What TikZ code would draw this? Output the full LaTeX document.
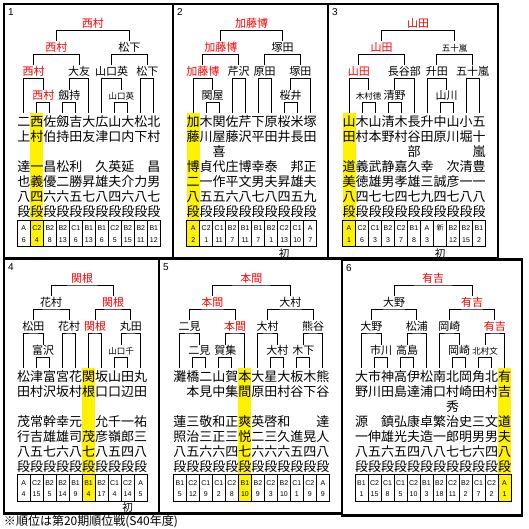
\documentclass[tikz,border=0pt]{standalone}
\usepackage{fontspec}
\newfontfamily\jp{Noto Sans CJK JP}
\newfontfamily\lat{Liberation Sans}
% one player column: name, column, first char, other rows, class, number
\newcommand{\plyr}[6]{%
  \node[kanji] (#1) at (13*#2,0) {#3};
  \foreach \c [count=\r] in {#4} {\node[kanji] (#1-\r) at (13*#2,15*\r) {\c};}
  \node[cell] (#1-t) at (13*#2,111.65) {};
  \node[cls] (#1-c) at (13*#2,106.5) {#5};
  \node[cls] (#1-n) at (13*#2,118) {#6};
}

\begin{document}
\begin{tikzpicture}[x=1pt,y=-1pt,line width=1pt,
  kanji/.style={font=\jp\fontsize{13}{13}\selectfont,inner sep=0pt,text height=13.3pt,text depth=3.5pt},
  lab/.style={font=\jp\fontsize{11}{11}\selectfont,inner sep=0pt,text height=9.7pt,text depth=2.3pt,anchor=south},
  small/.style={font=\jp\fontsize{8.5}{8.5}\selectfont},
  win/.style={text=red},
  cell/.style={draw,minimum width=13pt,minimum height=26.7pt,inner sep=0pt},
  cls/.style={font=\lat\fontsize{7}{7}\selectfont,inner sep=0pt},
  hl/.style={fill=yellow},
  first/.style={font=\jp\fontsize{10.5}{10.5}\selectfont,inner sep=0pt},
  num/.style={font=\lat\fontsize{10}{10}\selectfont,inner sep=0pt},
  panel/.style={draw,line width=2.2pt}]
\useasboundingbox (0,0) rectangle (529,529);

% panel 1
\draw[panel] (4,4) rectangle (173,258.5);
\node[num] (n1) at (11,12.5) {1};
\begin{scope}[shift={(23.8,121.7)}]
\fill[hl] (6.5,-8.4) rectangle (19.5,125);
\plyr{futakami}{0}{二}{上,,達,也,八,段}{A}{6}
\plyr{nishimura}{1}{西}{村,,一,義,四,段}{C2}{4}
\plyr{saeki}{2}{佐}{伯,,昌,優,六,段}{B2}{8}
\plyr{kenmochi}{3}{劔}{持,,松,二,六,段}{B2}{13}
\plyr{yoshida}{4}{吉}{田,,利,勝,五,段}{C1}{6}
\plyr{otomo}{5}{大}{友,,,昇,七,段}{B1}{13}
\plyr{hirotsu}{6}{広}{津,,久,雄,八,段}{B1}{6}
\plyr{yamaguchi}{7}{山}{口,,英,夫,四,段}{C2}{5}
\plyr{ouchi}{8}{大}{内,,延,介,六,段}{B2}{15}
\plyr{matsushita}{9}{松}{下,,,力,八,段}{B2}{11}
\plyr{kitamura}{10}{北}{村,,昌,男,七,段}{B1}{12}
\node[lab,win] (r1) at (19.5,-19) {西村};
\draw (nishimura.north) |- (r1.south) -| (saeki.north);
\node[lab,win] (qf1) at (9.75,-43.5) {西村};
\draw (futakami.north) |- (qf1.south) -| (r1.north);
\node[lab] (r2) at (45.5,-19) {劔持};
\draw (kenmochi.north) |- (r2.south) -| (yoshida.north);
\node[lab] (qf2) at (55.25,-43.5) {大友};
\draw (r2.north) |- (qf2.south) -| (otomo.north);
\node[lab,win] (sf1) at (32.5,-67.5) {西村};
\draw (qf1.north) |- (sf1.south) -| (qf2.north);
\node[lab,small] (r3) at (97.5,-19) {山口英};
\draw (yamaguchi.north) |- (r3.south) -| (ouchi.north);
\node[lab] (qf3) at (87.75,-43.5) {山口英};
\draw (hirotsu.north) |- (qf3.south) -| (r3.north);
\node[lab] (qf4) at (123.5,-43.5) {松下};
\draw (matsushita.north) |- (qf4.south) -| (kitamura.north);
\node[lab] (sf2) at (105.6,-67.5) {松下};
\draw (qf3.north) |- (sf2.south) -| (qf4.north);
\node[lab,win] (fin) at (69.1,-91.5) {西村};
\draw (sf1.north) |- (fin.south) -| (sf2.north);
\end{scope}

% panel 2
\draw[panel] (173,4) rectangle (328,258.5);
\node[num] (n2) at (180,12.5) {2};
\begin{scope}[shift={(193.2,121.7)}]
\fill[hl] (-6.5,-8.4) rectangle (6.5,125);
\plyr{kato}{0}{加}{藤,,博,二,八,段}{A}{2}
\plyr{kikawa}{1}{木}{川,,貞,一,五,段}{C2}{1}
\plyr{sekiya}{2}{関}{屋,喜,代,作,五,段}{C1}{11}
\plyr{sato}{3}{佐}{藤,,庄,平,六,段}{B2}{7}
\plyr{serizawa}{4}{芹}{沢,,博,文,八,段}{B1}{11}
\plyr{shimohira}{5}{下}{平,,幸,男,七,段}{B1}{7}
\plyr{harada}{6}{原}{田,,泰,夫,八,段}{B2}{1}
\plyr{sakurai}{7}{桜}{井,,,昇,四,段}{C2}{13}
\plyr{yonenaga}{8}{米}{長,,邦,雄,五,段}{C1}{10}
\plyr{tsukada}{9}{塚}{田,,正,夫,九,段}{A}{7}
\node[lab] (r1) at (19.5,-19) {関屋};
\draw (kikawa.north) |- (r1.south) -| (sekiya.north);
\node[lab,win] (qf1) at (9.75,-43.5) {加藤博};
\draw (kato.north) |- (qf1.south) -| (r1.north);
\node[lab] (qf2) at (45.5,-43.5) {芹沢};
\draw (sato.north) |- (qf2.south) -| (serizawa.north);
\node[lab,win] (sf1) at (27.6,-67.5) {加藤博};
\draw (qf1.north) |- (sf1.south) -| (qf2.north);
\node[lab] (qf3) at (71.5,-43.5) {原田};
\draw (shimohira.north) |- (qf3.south) -| (harada.north);
\node[lab] (r2) at (97.5,-19) {桜井};
\draw (sakurai.north) |- (r2.south) -| (yonenaga.north);
\node[lab] (qf4) at (107.25,-43.5) {塚田};
\draw (r2.north) |- (qf4.south) -| (tsukada.north);
\node[lab] (sf2) at (89.4,-67.5) {塚田};
\draw (qf3.north) |- (sf2.south) -| (qf4.north);
\node[lab,win] (fin) at (58.5,-91.5) {加藤博};
\draw (sf1.north) |- (fin.south) -| (sf2.north);
\node[first] (new2) at (91,131.5) {初};
\end{scope}

% panel 3
\draw[panel] (328,4) rectangle (498,258.5);
\node[num] (n3) at (335,12.5) {3};
\begin{scope}[shift={(349,121.7)}]
\fill[hl] (-6.5,-8.4) rectangle (6.5,125);
\plyr{yamada}{0}{山}{田,,道,美,八,段}{A}{1}
\plyr{kimuray}{1}{木}{村,,義,徳,四,段}{C2}{6}
\plyr{yamamoto}{2}{山}{本,,武,雄,七,段}{C1}{3}
\plyr{seino}{3}{清}{野,,静,男,七,段}{B2}{3}
\plyr{kimurak}{4}{木}{村,,嘉,孝,四,段}{C2}{7}
\plyr{hasebe}{5}{長}{谷,部,久,雄,七,段}{B1}{8}
\plyr{masuda}{6}{升}{田,,幸,三,九,段}{A}{3}
\plyr{nakahara}{7}{中}{原,,,誠,四,段}{\jp 新}{}
\plyr{yamakawa}{8}{山}{川,,次,彦,七,段}{B2}{12}
\plyr{kobori}{9}{小}{堀,,清,一,八,段}{B2}{15}
\plyr{igarashi}{10}{五}{十,嵐,豊,一,八,段}{B1}{2}
\node[lab,small] (r1) at (19.5,-19) {木村徳};
\draw (kimuray.north) |- (r1.south) -| (yamamoto.north);
\node[lab,win] (qf1) at (9.75,-43.5) {山田};
\draw (yamada.north) |- (qf1.south) -| (r1.north);
\node[lab] (r2) at (45.5,-19) {清野};
\draw (seino.north) |- (r2.south) -| (kimurak.north);
\node[lab] (qf2) at (55.25,-43.5) {長谷部};
\draw (r2.north) |- (qf2.south) -| (hasebe.north);
\node[lab,win] (sf1) at (32.5,-67.5) {山田};
\draw (qf1.north) |- (sf1.south) -| (qf2.north);
\node[lab] (r3) at (97.5,-19) {山川};
\draw (nakahara.north) |- (r3.south) -| (yamakawa.north);
\node[lab] (qf3) at (87.75,-43.5) {升田};
\draw (masuda.north) |- (qf3.south) -| (r3.north);
\node[lab] (qf4) at (123.5,-43.5) {五十嵐};
\draw (kobori.north) |- (qf4.south) -| (igarashi.north);
\node[lab,small] (sf2) at (105.6,-67.5) {五十嵐};
\draw (qf3.north) |- (sf2.south) -| (qf4.north);
\node[lab,win] (fin) at (69.1,-91.5) {山田};
\draw (sf1.north) |- (fin.south) -| (sf2.north);
\node[first] (new3) at (91,131.5) {初};
\end{scope}

% panel 4
\draw[panel] (4,258.5) rectangle (159,513.5);
\node[num] (n4) at (11,267) {4};
\begin{scope}[shift={(23.6,376.5)}]
\fill[hl] (58.5,-8.4) rectangle (71.5,125);
\plyr{matsuda}{0}{松}{田,,茂,行,八,段}{A}{4}
\plyr{tsumura}{1}{津}{村,,常,吉,五,段}{C2}{15}
\plyr{tomizawa}{2}{富}{沢,,幹,雄,七,段}{B2}{5}
\plyr{miyasaka}{3}{宮}{坂,,幸,雄,六,段}{B2}{14}
\plyr{hanamura}{4}{花}{村,,元,司,八,段}{B1}{9}
\plyr{sekine}{5}{関}{根,,,茂,七,段}{B1}{4}
\plyr{sakaguchi}{6}{坂}{口,,允,彦,八,段}{B2}{17}
\plyr{yamaguchic}{7}{山}{口,,千,嶺,五,段}{C1}{4}
\plyr{tanabe}{8}{田}{辺,,一,郎,四,段}{C2}{14}
\plyr{maruta}{9}{丸}{田,,祐,三,八,段}{A}{5}
\node[lab] (r1) at (19.5,-19) {富沢};
\draw (tsumura.north) |- (r1.south) -| (tomizawa.north);
\node[lab] (qf1) at (9.75,-43.5) {松田};
\draw (matsuda.north) |- (qf1.south) -| (r1.north);
\node[lab] (qf2) at (45.5,-43.5) {花村};
\draw (miyasaka.north) |- (qf2.south) -| (hanamura.north);
\node[lab] (sf1) at (27.6,-67.5) {花村};
\draw (qf1.north) |- (sf1.south) -| (qf2.north);
\node[lab,win] (qf3) at (71.5,-43.5) {関根};
\draw (sekine.north) |- (qf3.south) -| (sakaguchi.north);
\node[lab,small] (r2) at (97.5,-19) {山口千};
\draw (yamaguchic.north) |- (r2.south) -| (tanabe.north);
\node[lab] (qf4) at (107.25,-43.5) {丸田};
\draw (r2.north) |- (qf4.south) -| (maruta.north);
\node[lab,win] (sf2) at (89.4,-67.5) {関根};
\draw (qf3.north) |- (sf2.south) -| (qf4.north);
\node[lab,win] (fin) at (58.5,-91.5) {関根};
\draw (sf1.north) |- (fin.south) -| (sf2.north);
\node[first] (new4) at (104,131.5) {初};
\end{scope}

% panel 5
\draw[panel] (159,258.5) rectangle (342,513.5);
\node[num] (n5) at (166,267) {5};
\begin{scope}[shift={(179.9,376.5)}]
\fill[hl] (58.5,-8.4) rectangle (71.5,125);
\plyr{nada}{0}{灘}{,,蓮,照,八,段}{B1}{5}
\plyr{hashimoto}{1}{橋}{本,,三,治,五,段}{C2}{12}
\plyr{futami}{2}{二}{見,,敬,三,六,段}{C1}{9}
\plyr{yamanaka}{3}{山}{中,,和,正,六,段}{C1}{2}
\plyr{kashu}{4}{賀}{集,,正,三,四,段}{C2}{8}
\plyr{honma}{5}{本}{間,,爽,悦,七,段}{B1}{10}
\plyr{ohara}{6}{大}{原,,英,二,六,段}{B2}{9}
\plyr{hoshida}{7}{星}{田,,啓,三,六,段}{C2}{3}
\plyr{omura}{8}{大}{村,,和,久,六,段}{B2}{10}
\plyr{itaya}{9}{板}{谷,,,進,五,段}{C1}{1}
\plyr{kinoshita}{10}{木}{下,,,晃,四,段}{C2}{9}
\plyr{kumagai}{11}{熊}{谷,,達,人,八,段}{A}{9}
\node[lab] (r1) at (19.5,-19) {二見};
\draw (hashimoto.north) |- (r1.south) -| (futami.north);
\node[lab] (qf1) at (9.75,-43.5) {二見};
\draw (nada.north) |- (qf1.south) -| (r1.north);
\node[lab] (r2) at (45.5,-19) {賀集};
\draw (yamanaka.north) |- (r2.south) -| (kashu.north);
\node[lab,win] (qf2) at (55.25,-43.5) {本間};
\draw (r2.north) |- (qf2.south) -| (honma.north);
\node[lab,win] (sf1) at (32.5,-67.5) {本間};
\draw (qf1.north) |- (sf1.south) -| (qf2.north);
\node[lab] (r3) at (97.5,-19) {大村};
\draw (hoshida.north) |- (r3.south) -| (omura.north);
\node[lab] (qf3) at (87.75,-43.5) {大村};
\draw (ohara.north) |- (qf3.south) -| (r3.north);
\node[lab] (r4) at (123.5,-19) {木下};
\draw (itaya.north) |- (r4.south) -| (kinoshita.north);
\node[lab] (qf4) at (133.25,-43.5) {熊谷};
\draw (r4.north) |- (qf4.south) -| (kumagai.north);
\node[lab] (sf2) at (110.5,-67.5) {大村};
\draw (qf3.north) |- (sf2.south) -| (qf4.north);
\node[lab,win] (fin) at (71.5,-91.5) {本間};
\draw (sf1.north) |- (fin.south) -| (sf2.north);
\end{scope}

% panel 6
\draw[panel] (342,259.5) rectangle (522,515.5);
\node[num] (n6) at (349,268) {6};
\begin{scope}[shift={(361.5,376.5)}]
\fill[hl] (136.5,-8.4) rectangle (149.5,125);
\plyr{ono}{0}{大}{野,,源,一,八,段}{B1}{1}
\plyr{ichikawa}{1}{市}{川,,,伸,五,段}{C2}{15}
\plyr{kanda}{2}{神}{田,,鎮,雄,六,段}{C1}{8}
\plyr{takashima}{3}{高}{島,,弘,光,五,段}{C1}{5}
\plyr{date}{4}{伊}{達,,康,夫,四,段}{C2}{10}
\plyr{matsuura}{5}{松}{浦,,卓,造,八,段}{B1}{3}
\plyr{minamiguchi}{6}{南}{口,,繁,一,八,段}{B2}{18}
\plyr{kitamurah}{7}{北}{村,秀,治,郎,七,段}{C2}{11}
\plyr{okazaki}{8}{岡}{崎,,史,明,七,段}{B2}{2}
\plyr{sumita}{9}{角}{田,,三,男,六,段}{C1}{7}
\plyr{kitamuraf}{10}{北}{村,,文,男,四,段}{C2}{2}
\plyr{ariyoshi}{11}{有}{吉,,道,夫,八,段}{A}{1}
\node[lab] (r1) at (19.5,-19) {市川};
\draw (ichikawa.north) |- (r1.south) -| (kanda.north);
\node[lab] (qf1) at (9.75,-43.5) {大野};
\draw (ono.north) |- (qf1.south) -| (r1.north);
\node[lab] (r2) at (45.5,-19) {高島};
\draw (takashima.north) |- (r2.south) -| (date.north);
\node[lab] (qf2) at (55.25,-43.5) {松浦};
\draw (r2.north) |- (qf2.south) -| (matsuura.north);
\node[lab] (sf1) at (32.5,-67.5) {大野};
\draw (qf1.north) |- (sf1.south) -| (qf2.north);
\node[lab] (r3) at (97.5,-19) {岡崎};
\draw (kitamurah.north) |- (r3.south) -| (okazaki.north);
\node[lab] (qf3) at (87.75,-43.5) {岡崎};
\draw (minamiguchi.north) |- (qf3.south) -| (r3.north);
\node[lab,small] (r4) at (123.5,-19) {北村文};
\draw (sumita.north) |- (r4.south) -| (kitamuraf.north);
\node[lab,win] (qf4) at (133.25,-43.5) {有吉};
\draw (r4.north) |- (qf4.south) -| (ariyoshi.north);
\node[lab,win] (sf2) at (110.5,-67.5) {有吉};
\draw (qf3.north) |- (sf2.south) -| (qf4.north);
\node[lab,win] (fin) at (71.5,-91.5) {有吉};
\draw (sf1.north) |- (fin.south) -| (sf2.north);
\end{scope}

\node[font=\jp\fontsize{12}{12}\selectfont,inner sep=0pt,anchor=west] (note) at (3.5,521.7) {※順位は第20期順位戦(S40年度)};
\end{tikzpicture}
\end{document}
